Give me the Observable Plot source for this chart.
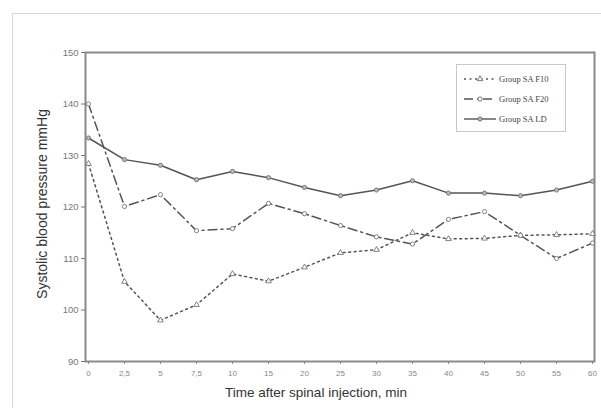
<!DOCTYPE html>
<html>
<head>
<meta charset="utf-8">
<script src="https://cdn.jsdelivr.net/npm/d3@7"></script>
<script src="https://cdn.jsdelivr.net/npm/@observablehq/plot@0.6"></script>
<style>
  html, body { margin: 0; padding: 0; background: #fff; overflow: hidden; }
  #wrap { position: relative; width: 601px; height: 408px; overflow: hidden; }
  #outer { position: absolute; left: 12px; top: 13px; width: 700px; height: 500px; border: 1px solid #d6d6d6; }
  #chart { position: absolute; left: 0; top: 0; }
  #legend { position: absolute; left: 456px; top: 64px; width: 110px; height: 68px; border: 1px solid #c8c8c8; background: #fff; box-sizing: border-box; padding-top: 4px; }
  .row { display: flex; align-items: center; height: 20px; padding-left: 6px; }
  .row span { font-family: "Liberation Serif", "DejaVu Serif", serif; font-size: 8.5px; color: #444; margin-left: 2px; white-space: nowrap; }
</style>
</head>
<body>
<div id="wrap">
  <div id="outer"></div>
  <div id="chart"></div>
  <div id="legend"></div>
</div>
<script>
// ---- data ----
const timeLabels = ["0","2,5","5","7,5","10","15","20","25","30","35","40","45","50","55","60"];
const seriesNames = ["Group SA F10","Group SA F20","Group SA LD"];
const f10 = [128.4,105.5,98.0,101.0,107.0,105.6,108.3,111.1,111.7,115.0,113.8,113.9,114.5,114.6,114.8];
const f20 = [140.0,120.1,122.4,115.4,115.8,120.7,118.7,116.4,114.2,112.8,117.6,119.1,114.5,110.0,113.0];
const ld  = [133.4,129.2,128.1,125.3,126.9,125.7,123.8,122.2,123.3,125.1,122.7,122.7,122.2,123.3,125.0];
const yTicks = [90,100,110,120,130,140,150];

const valuesBySeries = [f10, f20, ld];
const table = valuesBySeries.flatMap((vals, s) => vals.map((v, i) => ({g: seriesNames[s], t: timeLabels[i], v})));
const sel = name => table.filter(d => d.g === name);

const lineColor = "#555";
const styles = {
  "Group SA F10": {dash: "2,3.5", symbol: "triangle", fill: "#fff"},
  "Group SA F20": {dash: "9,4,2,4", symbol: "circle", fill: "#fff"},
  "Group SA LD":  {dash: null, symbol: "circle", fill: "#bbb"}
};

const marks = [
  Plot.frame({stroke: "#8a8a8a", strokeWidth: 2}),
  Plot.axisY({ticks: yTicks, tickSize: 4, tickPadding: 3, fontSize: 9.5, color: "#777", label: null}),
  Plot.axisX({tickSize: 3, tickPadding: 6, fontSize: 8, color: "#888", label: null}),
  Plot.text(["Systolic blood pressure mmHg"], {frameAnchor: "left", textAnchor: "middle", rotate: -90, dx: -43, dy: -3, fontSize: 14, fill: "#333"}),
  Plot.text(["Time after spinal injection, min"], {frameAnchor: "bottom", dy: 35, dx: -24, fontSize: 13.5, fill: "#333"})
];
for (const name of seriesNames) {
  const st = styles[name];
  marks.push(Plot.lineY(sel(name), {x: "t", y: "v", stroke: lineColor, strokeWidth: 1.5, strokeDasharray: st.dash || undefined}));
}
for (const name of seriesNames) {
  const st = styles[name];
  marks.push(Plot.dot(sel(name), {x: "t", y: "v", symbol: st.symbol, r: 2.1, fill: st.fill, stroke: "#666", strokeWidth: 0.8}));
}

const chart = Plot.plot({
  width: 601, height: 408,
  marginLeft: 85, marginRight: 7, marginTop: 52, marginBottom: 47,
  style: {fontFamily: "Arial, 'Liberation Sans', sans-serif", background: "transparent"},
  x: {type: "point", domain: timeLabels, padding: 0},
  y: {domain: [90, 150]},
  marks
});
document.getElementById("chart").appendChild(chart);

// ---- legend ----
const legend = d3.select("#legend");
for (const name of seriesNames) {
  const st = styles[name];
  const row = legend.append("div").attr("class", "row");
  const svg = row.append("svg").attr("width", 34).attr("height", 10);
  svg.append("line").attr("x1", 1).attr("x2", 33).attr("y1", 5).attr("y2", 5)
    .attr("stroke", lineColor).attr("stroke-width", 1.4)
    .attr("stroke-dasharray", st.dash || null);
  svg.append("path").attr("transform", "translate(17,5)")
    .attr("d", d3.symbol(st.symbol === "triangle" ? d3.symbolTriangle : d3.symbolCircle, 14)())
    .attr("fill", st.fill).attr("stroke", lineColor).attr("stroke-width", 0.8);
  row.append("span").text(name);
}
</script>
</body>
</html>
